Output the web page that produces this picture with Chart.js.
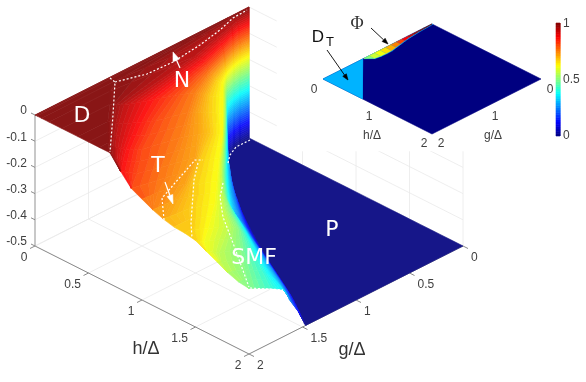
<!DOCTYPE html>
<html>
<head>
<meta charset="utf-8">
<style>
html, body { margin: 0; padding: 0; background: #fff; overflow: hidden; }
canvas { display: block; }
</style>
<script src="https://cdn.jsdelivr.net/npm/chart.js@4/dist/chart.umd.min.js"></script>
</head>
<body>
<canvas id="phaseChart" width="586" height="382"></canvas>
<script>
// Surface: for each h row, the g where z reaches each level
const hRows = [0, 0.003, 0.02, 0.06, 0.13, 0.25, 0.4, 0.5, 0.6, 0.7, 0.8, 0.9, 1, 1.1, 1.2, 1.3, 1.4, 1.5, 1.6, 1.7, 1.8, 1.9, 2];
const zLevels = [-0.5, -0.47, -0.44, -0.41, -0.38, -0.35, -0.32, -0.29, -0.25, -0.22, -0.19, -0.16, -0.14, -0.12, -0.09, -0.06, -0.03, 0];
const gAtLevel = [
    [0, 0, 0, 0, 0, 0, 0, 0, 0, 0, 0, 0, 0, 0, 0, 0, 0, 0],
    [0.087, 0.087, 0.087, 0.087, 0.087, 0.087, 0.087, 0.087, 0.087, 0.087, 0.087, 0.088, 0.089, 0.09, 0.095, 0.1, 0.12, 0.2],
    [0.16, 0.16, 0.16, 0.16, 0.16, 0.16, 0.16, 0.162, 0.162, 0.163, 0.164, 0.165, 0.166, 0.167, 0.17, 0.175, 0.18, 0.6],
    [0.25, 0.252, 0.254, 0.256, 0.258, 0.26, 0.26, 0.265, 0.27, 0.272, 0.275, 0.28, 0.285, 0.29, 0.3, 0.32, 0.36, 1.25],
    [0.33, 0.332, 0.334, 0.336, 0.338, 0.34, 0.34, 0.345, 0.35, 0.36, 0.375, 0.44, 0.47, 0.5, 0.53, 0.56, 0.64, 1.43],
    [0.44, 0.443, 0.446, 0.45, 0.453, 0.456, 0.46, 0.465, 0.47, 0.48, 0.5, 0.62, 0.68, 0.76, 0.95, 1.2, 1.42, 1.55],
    [0.57, 0.58, 0.585, 0.59, 0.595, 0.6, 0.61, 0.617, 0.625, 0.635, 0.65, 0.78, 0.88, 0.97, 1.27, 1.45, 1.62, 1.72],
    [0.64, 0.65, 0.66, 0.67, 0.68, 0.695, 0.71, 0.72, 0.73, 0.74, 0.75, 0.87, 0.98, 1.11, 1.43, 1.6, 1.74, 1.82],
    [0.71, 0.72, 0.735, 0.75, 0.77, 0.79, 0.81, 0.82, 0.834, 0.843, 0.852, 0.96, 1.08, 1.25, 1.6, 1.75, 1.85, 1.92],
    [0.76, 0.78, 0.8, 0.825, 0.85, 0.88, 0.905, 0.92, 0.937, 0.95, 0.966, 1.11, 1.19, 1.4, 1.72, 1.88, 1.95, 2],
    [0.81, 0.84, 0.87, 0.9, 0.93, 0.97, 1.0, 1.02, 1.04, 1.06, 1.08, 1.26, 1.3, 1.55, 1.85, 2, 2, 2],
    [0.865, 0.9, 0.935, 0.97, 1.005, 1.05, 1.085, 1.11, 1.135, 1.16, 1.19, 1.39, 1.45, 1.68, 2, 2, 2, 2],
    [0.92, 0.96, 1.0, 1.04, 1.08, 1.13, 1.17, 1.2, 1.23, 1.26, 1.3, 1.53, 1.6, 1.85, 2, 2, 2, 2],
    [0.975, 1.015, 1.055, 1.095, 1.135, 1.18, 1.22, 1.255, 1.305, 1.35, 1.41, 1.63, 1.8, 2, 2, 2, 2, 2],
    [1.03, 1.07, 1.11, 1.15, 1.19, 1.23, 1.27, 1.31, 1.38, 1.44, 1.52, 1.76, 2, 2, 2, 2, 2, 2],
    [1.085, 1.12, 1.16, 1.2, 1.24, 1.285, 1.325, 1.37, 1.44, 1.515, 1.65, 1.85, 2, 2, 2, 2, 2, 2],
    [1.14, 1.17, 1.21, 1.25, 1.29, 1.34, 1.38, 1.43, 1.5, 1.59, 1.78, 1.95, 2, 2, 2, 2, 2, 2],
    [1.19, 1.22, 1.26, 1.3, 1.34, 1.39, 1.44, 1.495, 1.59, 1.73, 1.92, 2, 2, 2, 2, 2, 2, 2],
    [1.24, 1.27, 1.31, 1.35, 1.39, 1.44, 1.5, 1.56, 1.68, 1.88, 2, 2, 2, 2, 2, 2, 2, 2],
    [1.295, 1.325, 1.36, 1.4, 1.44, 1.49, 1.55, 1.62, 1.76, 1.96, 2, 2, 2, 2, 2, 2, 2, 2],
    [1.35, 1.38, 1.41, 1.45, 1.49, 1.54, 1.6, 1.68, 1.84, 2, 2, 2, 2, 2, 2, 2, 2, 2],
    [1.41, 1.44, 1.47, 1.51, 1.55, 1.59, 1.64, 1.74, 1.92, 2, 2, 2, 2, 2, 2, 2, 2, 2],
    [1.47, 1.5, 1.53, 1.57, 1.61, 1.64, 1.68, 1.8, 2, 2, 2, 2, 2, 2, 2, 2, 2, 2]
];
// z along the g = 2 edge, one per h row
const zEdge = [0, 0, 0, 0, 0, 0, 0, 0, 0, 0, -0.05, -0.095, -0.115, -0.135, -0.15, -0.16, -0.1625, -0.17, -0.19, -0.21, -0.23, -0.245, -0.25];

// Axis ticks
const hgTicks = [0, 0.5, 1, 1.5, 2];
const zTicks = [0, -0.1, -0.2, -0.3, -0.4, -0.5];

// Inset: thin phi strip along h = 0
const phiG = [1.25, 1.15, 1.05, 0.95, 0.85, 0.75, 0.65, 0.55, 0.45, 0.35, 0.25, 0.15, 0.05, 0];
const phiH = [0, 0.095, 0.11, 0.115, 0.11, 0.09, 0.07, 0.05, 0.035, 0.025, 0.015, 0.01, 0.004, 0];
const phiValue = [0.48, 0.55, 0.6, 0.63, 0.68, 0.73, 0.77, 0.85, 0.9, 0.95, 0.98, 1, 1, 1];
const dtCorners = [[0, 2], [0, 1.27], [0.72, 2]];
const dtValue = 0.3;
const cbarSteps = 48;

// White dashed phase boundaries, in chart units
const nBoundary = [[115, 82], [147, 74], [173, 62], [200, 45], [220, 30], [233, 18], [247, 10]];
const dBoundary = [[110, 78], [115, 82], [113, 115], [110, 152]];
const tLeftBoundary = [[164, 220], [162, 198], [195, 160], [203, 160]];
const tRightBoundary = [[198, 163], [194, 180], [191, 223], [192, 238]];
const smfBoundary = [[223, 183], [220, 197], [223, 217], [233, 243], [249, 287]];
const pArc = [[228, 163], [230, 155], [236, 147], [250, 140]];
const frontEdge = [[250, 288], [283, 290]];

function project(h, g, z) {
    return { x: 249 + 107 * (h - g), y: 138 + 54 * (h + g) - 262 * (z + 0.5) };
}

function projectInset(h, g) {
    return { x: 432 + 54.5 * (h - g), y: 24 + 27.5 * (h + g) };
}

// MATLAB jet
function jet(v) {
    const ramp = t => Math.max(0, Math.min(1, t));
    return [ramp(1.5 - Math.abs(4 * v - 3)), ramp(1.5 - Math.abs(4 * v - 2)), ramp(1.5 - Math.abs(4 * v - 1))].map(c => c * 255);
}

function rgb(c) {
    return 'rgb(' + c.map(Math.round).join(',') + ')';
}

// surface has a little transparency over white
function surfaceColor(z) {
    return rgb(jet((z + 0.5) / 0.5).map(c => c * 0.9 + 22));
}

const datasets = [];

function addLine(points, color, width, dash) {
    datasets.push({ data: points, showLine: true, fill: false, borderColor: color, borderWidth: width, borderDash: dash || [], pointRadius: 0, tension: 0 });
}

function addPoly(points, color) {
    datasets.push({ data: points.concat([points[0]]), showLine: true, fill: 'shape', backgroundColor: color, borderColor: color, borderWidth: 0.6, pointRadius: 0, tension: 0 });
}

function pts(pairs) {
    return pairs.map(p => ({ x: p[0], y: p[1] }));
}

function addArrow(x0, y0, x1, y1, color, width, headLength, headWidth) {
    const len = Math.hypot(x1 - x0, y1 - y0);
    const ux = (x1 - x0) / len, uy = (y1 - y0) / len;
    const bx = x1 - ux * headLength, by = y1 - uy * headLength;
    addLine([{ x: x0, y: y0 }, { x: bx, y: by }], color, width);
    addPoly([{ x: x1, y: y1 }, { x: bx - uy * headWidth, y: by + ux * headWidth }, { x: bx + uy * headWidth, y: by - ux * headWidth }], color);
}

// Back walls and floor grid
const gridColor = '#eaeaea';
hgTicks.forEach(t => {
    addLine([project(t, 0, -0.5), project(t, 2, -0.5)], gridColor, 0.8);
    addLine([project(0, t, -0.5), project(2, t, -0.5)], gridColor, 0.8);
    addLine([project(t, 0, -0.5), project(t, 0, 0)], gridColor, 0.8);
    addLine([project(0, t, -0.5), project(0, t, 0)], gridColor, 0.8);
});
zTicks.forEach(z => {
    addLine([project(0, 0, z), project(2, 0, z)], gridColor, 0.8);
    addLine([project(0, 0, z), project(0, 2, z)], gridColor, 0.8);
});

// Axis lines and ticks
addLine([project(0, 2, 0), project(0, 2, -0.5)], '#c8c8c8', 2);
addLine([project(0, 2, -0.5), project(2, 2, -0.5)], '#8a8a8a', 1);
addLine([project(2, 2, -0.5), project(2, 0, -0.5)], '#8a8a8a', 1);
hgTicks.forEach(t => {
    const a = project(t, 2, -0.5), b = project(2, t, -0.5);
    addLine([a, { x: a.x - 5, y: a.y + 2.5 }], '#8a8a8a', 1);
    addLine([b, { x: b.x + 5, y: b.y + 2.5 }], '#8a8a8a', 1);
});
zTicks.forEach(z => {
    const a = project(0, 2, z);
    addLine([a, { x: a.x - 4, y: a.y - 2 }], '#8a8a8a', 1);
});

// P floor first, then the sheet row by row from the back
addPoly(
    hRows.map(h => project(h, 0, -0.5)).concat(hRows.map((h, r) => project(h, gAtLevel[r][0], -0.5)).reverse()),
    surfaceColor(-0.5)
);

function sheetPoint(r, l) {
    if (l >= zLevels.length) return project(hRows[r], 2, zEdge[r]);
    const g = gAtLevel[r][l];
    return g >= 2 ? project(hRows[r], 2, zEdge[r]) : project(hRows[r], g, zLevels[l]);
}

function mix(a, b, t) {
    return { x: a.x + (b.x - a.x) * t, y: a.y + (b.y - a.y) * t };
}

// each contour band is shaded in a few flat slices, like shading interp
const slices = 4;
for (let r = 0; r + 1 < hRows.length; r++) {
    for (let l = 0; l < zLevels.length; l++) {
        if (gAtLevel[r][l] >= 2 && gAtLevel[r + 1][l] >= 2) continue;
        const a0 = sheetPoint(r, l), b0 = sheetPoint(r + 1, l), b1 = sheetPoint(r + 1, l + 1), a1 = sheetPoint(r, l + 1);
        const top = Math.max(zEdge[r], zEdge[r + 1]);
        const zLow = Math.min(zLevels[l], top);
        const zHigh = l + 1 < zLevels.length ? Math.min(zLevels[l + 1], top) : zLow;
        const n = zHigh > zLow ? slices : 1;
        for (let s = 0; s < n; s++) {
            addPoly([mix(a0, a1, s / n), mix(b0, b1, s / n), mix(b0, b1, (s + 1) / n), mix(a0, a1, (s + 1) / n)],
                surfaceColor(zLow + (zHigh - zLow) * (s + 0.5) / n));
        }
    }
}

// Phase boundaries and arrows on the main surface
[nBoundary, dBoundary, tLeftBoundary, tRightBoundary, smfBoundary, pArc, frontEdge].forEach(b => {
    addLine(pts(b), '#ffffff', 1.2, [2, 2]);
});
addArrow(180, 68, 173, 52, '#ffffff', 1.2, 9, 3);
addArrow(165, 182, 173, 204, '#ffffff', 1.2, 9, 3);

// Inset sits on a white panel that cuts off the back grid
addPoly(pts([[277, 0], [586, 0], [586, 151], [277, 151]]), '#ffffff');
addPoly([projectInset(0, 0), projectInset(2, 0), projectInset(2, 2), projectInset(0, 2)], rgb(jet(0)));
addPoly(dtCorners.map(c => projectInset(c[0], c[1])), rgb(jet(dtValue)));
for (let i = 0; i + 1 < phiG.length; i++) {
    addPoly([
        projectInset(0, phiG[i]), projectInset(0, phiG[i + 1]),
        projectInset(phiH[i + 1] + 0.012, phiG[i + 1]), projectInset(phiH[i] + 0.012, phiG[i])
    ], rgb(jet(0.3)));
    addPoly([
        projectInset(0, phiG[i]), projectInset(0, phiG[i + 1]),
        projectInset(phiH[i + 1], phiG[i + 1]), projectInset(phiH[i], phiG[i])
    ], rgb(jet((phiValue[i] + phiValue[i + 1]) / 2)));
}
addArrow(327, 50, 348, 80, '#000000', 0.9, 6, 2.2);
addArrow(371, 28, 388, 44, '#000000', 0.9, 6, 2.2);

// Colour bar
for (let i = 0; i < cbarSteps; i++) {
    const top = 136 - 113 * (i + 1) / cbarSteps, bottom = 136 - 113 * i / cbarSteps;
    addPoly(pts([[556, top], [560, top], [560, bottom], [556, bottom]]), rgb(jet((i + 0.5) / cbarSteps)));
}

// Chart.js paints the first dataset on top
datasets.reverse();

const tickFont = '12px "Liberation Sans"';
const tickColor = '#404040';

const textPlugin = {
    id: 'chartText',
    afterDatasetsDraw(chart) {
        const ctx = chart.ctx;
        const sx = chart.scales.x, sy = chart.scales.y;
        const put = (text, x, y, font, color, align) => {
            ctx.font = font;
            ctx.fillStyle = color;
            ctx.textAlign = align || 'center';
            ctx.textBaseline = 'middle';
            ctx.fillText(text, sx.getPixelForValue(x), sy.getPixelForValue(y));
        };
        ctx.save();
        hgTicks.forEach(t => {
            const a = project(t, 2, -0.5), b = project(2, t, -0.5);
            put(String(t), a.x - 7.5, a.y + 12, tickFont, tickColor, 'right');
            put(String(t), b.x + 8, b.y + 12, tickFont, tickColor, 'left');
        });
        zTicks.forEach(z => {
            const a = project(0, 2, z);
            put(String(z), a.x - 8, a.y - 4, tickFont, tickColor, 'right');
        });
        put('h/\u0394', 146, 349, '18px "Liberation Sans"', '#333333');
        put('g/\u0394', 352, 350, '18px "Liberation Sans"', '#333333');

        const label = '22px "DejaVu Sans"';
        put('D', 82, 116, label, '#ffffff');
        put('N', 182, 81, label, '#ffffff');
        put('T', 158, 166, label, '#ffffff');
        put('SMF', 254, 258, label, '#ffffff');
        put('P', 332, 230, label, '#ffffff');

        // Inset text
        put('0', 314, 90, tickFont, tickColor);
        put('1', 369, 117, tickFont, tickColor);
        put('2', 424, 144, tickFont, tickColor);
        put('2', 441, 144, tickFont, tickColor);
        put('1', 495, 117, tickFont, tickColor);
        put('0', 550, 90, tickFont, tickColor);
        put('h/\u0394', 372, 136, tickFont, '#404040');
        put('g/\u0394', 493, 136, tickFont, '#404040');
        put('D', 318, 37, '17px "Liberation Sans"', '#111111');
        put('T', 330, 42, '13px "Liberation Sans"', '#111111');
        put('\u03A6', 357, 24, '18px "Liberation Serif"', '#333333');
        put('1', 563, 24, tickFont, tickColor, 'left');
        put('0.5', 563, 80, tickFont, tickColor, 'left');
        put('0', 563, 136, tickFont, tickColor, 'left');
        ctx.restore();
    }
};

new Chart(document.getElementById('phaseChart').getContext('2d'), {
    type: 'scatter',
    data: { datasets: datasets },
    options: {
        responsive: false,
        animation: false,
        layout: { padding: 0 },
        plugins: { legend: { display: false }, tooltip: { enabled: false }, title: { display: false } },
        scales: {
            x: { type: 'linear', min: 0, max: 586, display: false },
            y: { type: 'linear', min: 0, max: 382, reverse: true, display: false }
        }
    },
    plugins: [textPlugin]
});
</script>
</body>
</html>
